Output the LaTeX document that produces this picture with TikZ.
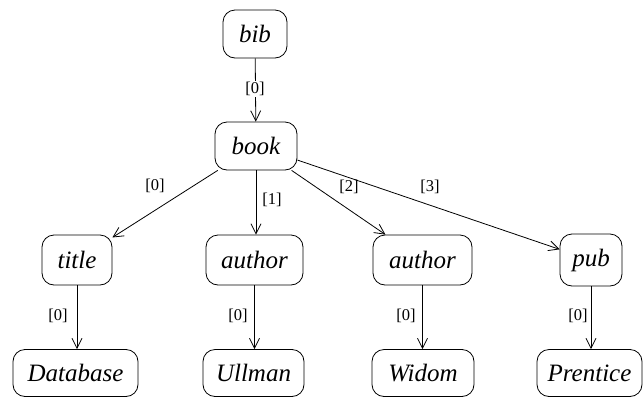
\documentclass[tikz,border=0pt]{standalone}
\usepackage{fontspec}
\setmainfont{Liberation Serif}
\usetikzlibrary{arrows.meta}
\begin{document}
\begin{tikzpicture}[x=1pt,y=-1pt,
  elem/.style={draw, line width=0.8pt, rounded corners=12pt, inner sep=0pt,
    minimum height=48pt, font=\itshape\fontsize{25}{25}\selectfont},
  conn/.style={line width=0.8pt, -{Straight Barb[length=10pt,width=10pt,line width=0.8pt]}},
  lbl/.style={inner sep=1pt, font=\fontsize{16.5}{16.5}\selectfont}]
\useasboundingbox (0,0) rectangle (643,397);
\node[elem, minimum width=64pt] (bib) at (255,34) {bib};
\node[elem, minimum width=82pt] (book) at (256,146) {book};
\node[elem, minimum width=70pt, minimum height=50pt] (title) at (77,260) {title};
\node[elem, minimum width=97pt, minimum height=50pt] (author1) at (254.5,260) {author};
\node[elem, minimum width=99pt, minimum height=50pt] (author2) at (422.5,260) {author};
\node[elem, minimum width=62pt, minimum height=52pt] (pub) at (591,260) {pub};
\node[elem, minimum width=125pt, minimum height=47pt] (db) at (75.5,373) {Database};
\node[elem, minimum width=101pt, minimum height=47pt] (ullman) at (253.5,373) {Ullman};
\node[elem, minimum width=102pt, minimum height=47pt] (widom) at (423,373) {Widom};
\node[elem, minimum width=105pt, minimum height=47pt] (prentice) at (589.5,373) {Prentice};

\draw[conn] (bib) -- (book);
\draw[conn] (book) -- (title);
\draw[conn] (book) -- (book |- author1.north);
\draw[conn] (book) -- (author2);
\draw[conn] (book) -- (pub);
\draw[conn] (title) -- (title |- db.north);
\draw[conn] (author1) -- (author1 |- ullman.north);
\draw[conn] (author2) -- (author2 |- widom.north);
\draw[conn] (pub) -- (pub |- prentice.north);

\node[lbl, fill=white] (l0) at (255,89) {[0]};
\node[lbl] (l1) at (155,186) {[0]};
\node[lbl] (l2) at (272,200) {[1]};
\node[lbl] (l3) at (349,187) {[2]};
\node[lbl] (l4) at (430,187) {[3]};
\node[lbl] (l5) at (58,316) {[0]};
\node[lbl] (l6) at (238,316) {[0]};
\node[lbl] (l7) at (406,316) {[0]};
\node[lbl] (l8) at (578,316) {[0]};
\end{tikzpicture}
\end{document}
